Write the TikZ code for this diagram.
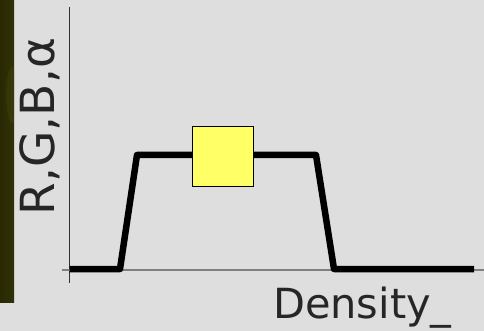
\documentclass[tikz,border=0pt]{standalone}
\usepackage{fontspec}
\setmainfont{DejaVu Sans}
\definecolor{stripA}{RGB}{40,40,4}
\definecolor{stripB}{RGB}{50,50,7}
\definecolor{glow}{RGB}{75,75,15}
\definecolor{boxyellow}{RGB}{255,255,102}
\begin{document}
\begin{tikzpicture}[x=1pt,y=-1pt,
  curve/.style={line width=6.5pt,line join=round,black},
  axis/.style={line width=1.2pt},
  lbl/.style={inner sep=0pt,text=black!85}]
\useasboundingbox (0,0) rectangle (484,331);
\fill[black!13] (0,0) rectangle (484,331);
\fill[left color=stripA,right color=stripB] (0,0) rectangle (14,302);
\begin{scope}
\clip (0,0) rectangle (14,302);
\fill[glow,opacity=0.3] (12,95) ellipse (6 and 28);
\end{scope}
% axes
\coordinate (ytop) at (69.5,7);
\coordinate (ybot) at (69.5,283);
\coordinate (tickl) at (62,270);
\coordinate (xend) at (484,270);
\draw[axis,black!80] (ytop) -- (ybot);
\draw[axis,black!50] (tickl) -- (xend);
% curve
\coordinate (c0) at (69.5,269);
\coordinate (c1) at (120,269);
\coordinate (c2) at (137,155);
\coordinate (c3) at (316,155);
\coordinate (c4) at (334,269);
\coordinate (c5) at (474,269);
\draw[curve] (c0) -- (c1) -- (c2) -- (c3) -- (c4) -- (c5);
% yellow box
\node[draw=black,line width=0.8pt,fill=boxyellow,minimum width=61pt,minimum height=60pt,inner sep=0pt] (box) at (222.5,156) {};
% labels
\node[lbl,font=\fontsize{47}{50}\selectfont,rotate=90,anchor=base] (ylab) at (54,126.5) {R,G,B,α};
\node[lbl,font=\fontsize{41.5}{44}\selectfont,anchor=base west] (xlab) at (273,318) {Density\_};
\end{tikzpicture}
\end{document}
